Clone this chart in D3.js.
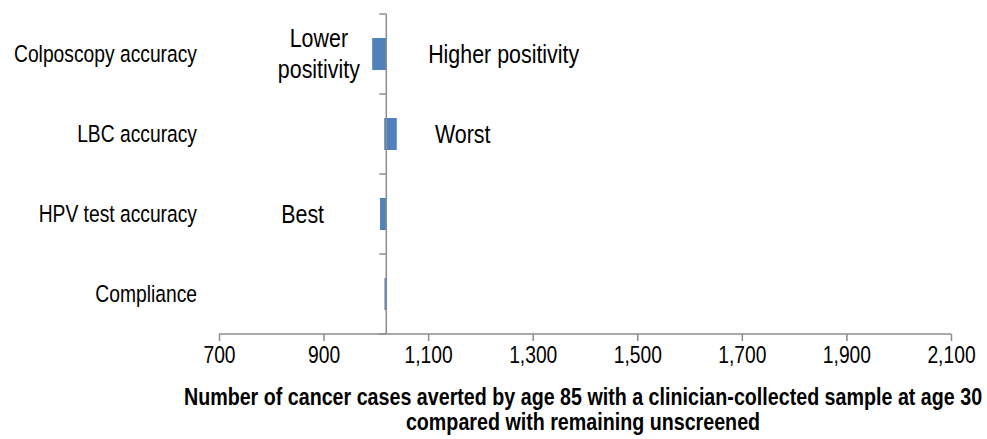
<!DOCTYPE html>
<html>
<head>
<meta charset="utf-8">
<script src="https://cdn.jsdelivr.net/npm/d3@7"></script>
<style>
  html, body { margin: 0; padding: 0; background: #fff; }
  svg { display: block; font-family: "Liberation Sans", Arial, sans-serif; }
</style>
</head>
<body>
<svg id="chart" width="987" height="439"></svg>
<script>
// Sensitivity of cancer cases averted to each input parameter
const categories = ["Colposcopy accuracy", "LBC accuracy", "HPV test accuracy", "Compliance"];
const baseline = 1020;
const lowValues = [993, 1016, 1008, 1016.5];
const highValues = [1020, 1040, 1020, 1020];
const xTicks = [700, 900, 1100, 1300, 1500, 1700, 1900, 2100];
const xDomain = [700, 2100];

// Annotation labels, placed in data units (x value, category)
const notes = [
  { lines: ["Lower", "positivity"], x: 891, cat: "Colposcopy accuracy", anchor: "middle" },
  { lines: ["Higher positivity"], x: 1100, cat: "Colposcopy accuracy", anchor: "start" },
  { lines: ["Worst"], x: 1113, cat: "LBC accuracy", anchor: "start" },
  { lines: ["Best"], x: 819, cat: "HPV test accuracy", anchor: "start" }
];

const axisTitle = [
  "Number of cancer cases averted by age 85 with a clinician-collected sample at age 30",
  "compared with remaining unscreened"
];

const svg = d3.select("#chart");
const plotLeft = 219, plotRight = 951, plotTop = 14, plotBottom = 334;
const narrow = 0.82; // horizontal squeeze for a narrow-style face

const x = d3.scaleLinear().domain(xDomain).range([plotLeft, plotRight]);
const y = d3.scaleBand().domain(categories).range([plotTop, plotBottom]).paddingInner(0.6).paddingOuter(0.3);
const yOuter = d3.scaleBand().domain(categories).range([plotTop, plotBottom]);

const axisColor = "#8c8c8c";
const barColor = "#4f81bd";

// Bars: span from low to high value
svg.append("g").selectAll("rect")
  .data(categories)
  .join("rect")
  .attr("x", (d, i) => x(Math.min(lowValues[i], highValues[i])))
  .attr("width", (d, i) => Math.max(1.5, Math.abs(x(highValues[i]) - x(lowValues[i]))))
  .attr("y", d => y(d))
  .attr("height", y.bandwidth())
  .attr("fill", barColor);

// Horizontal axis
const xAxis = svg.append("g")
  .attr("transform", `translate(0,${plotBottom})`)
  .call(d3.axisBottom(x).tickValues(xTicks).tickSize(7).tickPadding(6)
    .tickFormat(d3.format(",")));
xAxis.select(".domain").attr("stroke", axisColor).attr("stroke-width", 1.5)
  .attr("d", `M${plotLeft},0H${plotRight}`);
xAxis.selectAll(".tick line").attr("stroke", axisColor).attr("stroke-width", 1.5);
xAxis.selectAll(".tick text")
  .attr("fill", "#000")
  .attr("font-size", 23.5)
  .attr("font-family", "Liberation Sans, Arial, sans-serif")
  .attr("y", 21)
  .attr("dy", "0.35em")
  .attr("transform", `scale(${narrow},1)`);

// Vertical axis at the baseline value
const yAxis = svg.append("g")
  .attr("transform", `translate(${x(baseline)},0)`);
yAxis.append("line")
  .attr("y1", plotTop).attr("y2", plotBottom)
  .attr("stroke", axisColor).attr("stroke-width", 1.5);
const bounds = categories.map(c => yOuter(c)).concat([plotBottom]);
yAxis.selectAll("line.tk")
  .data(bounds)
  .join("line")
  .attr("class", "tk")
  .attr("x1", -7).attr("x2", 0)
  .attr("y1", d => d).attr("y2", d => d)
  .attr("stroke", axisColor).attr("stroke-width", 1.5);

// Category labels on the left
svg.append("g").selectAll("g")
  .data(categories)
  .join("g")
  .attr("transform", d => `translate(197,${yOuter(d) + yOuter.bandwidth() / 2}) scale(${narrow},1)`)
  .append("text")
  .attr("dy", "0.35em")
  .attr("text-anchor", "end")
  .attr("font-size", 23.5)
  .attr("fill", "#000")
  .text(d => d);

// Annotations
notes.forEach(n => {
  const cy = yOuter(n.cat) + yOuter.bandwidth() / 2;
  const lh = 31;
  const y0 = cy - (n.lines.length - 1) * lh / 2;
  const g = svg.append("g")
    .attr("transform", `translate(${x(n.x)},${y0}) scale(0.84,1)`);
  const t = g.append("text")
    .attr("text-anchor", n.anchor)
    .attr("font-size", 25.5)
    .attr("fill", "#000");
  n.lines.forEach((ln, i) => {
    t.append("tspan").attr("x", 0).attr("y", i * lh).attr("dy", "0.35em").text(ln);
  });
});

// Axis title
const titleG = svg.append("g")
  .attr("transform", `translate(583,0) scale(${narrow},1)`);
titleG.append("text")
  .attr("text-anchor", "middle")
  .attr("font-size", 24)
  .attr("font-weight", "bold")
  .attr("fill", "#000")
  .selectAll("tspan")
  .data(axisTitle)
  .join("tspan")
  .attr("x", 0)
  .attr("y", (d, i) => 397 + i * 25)
  .attr("dy", "0.35em")
  .text(d => d);
</script>
</body>
</html>
